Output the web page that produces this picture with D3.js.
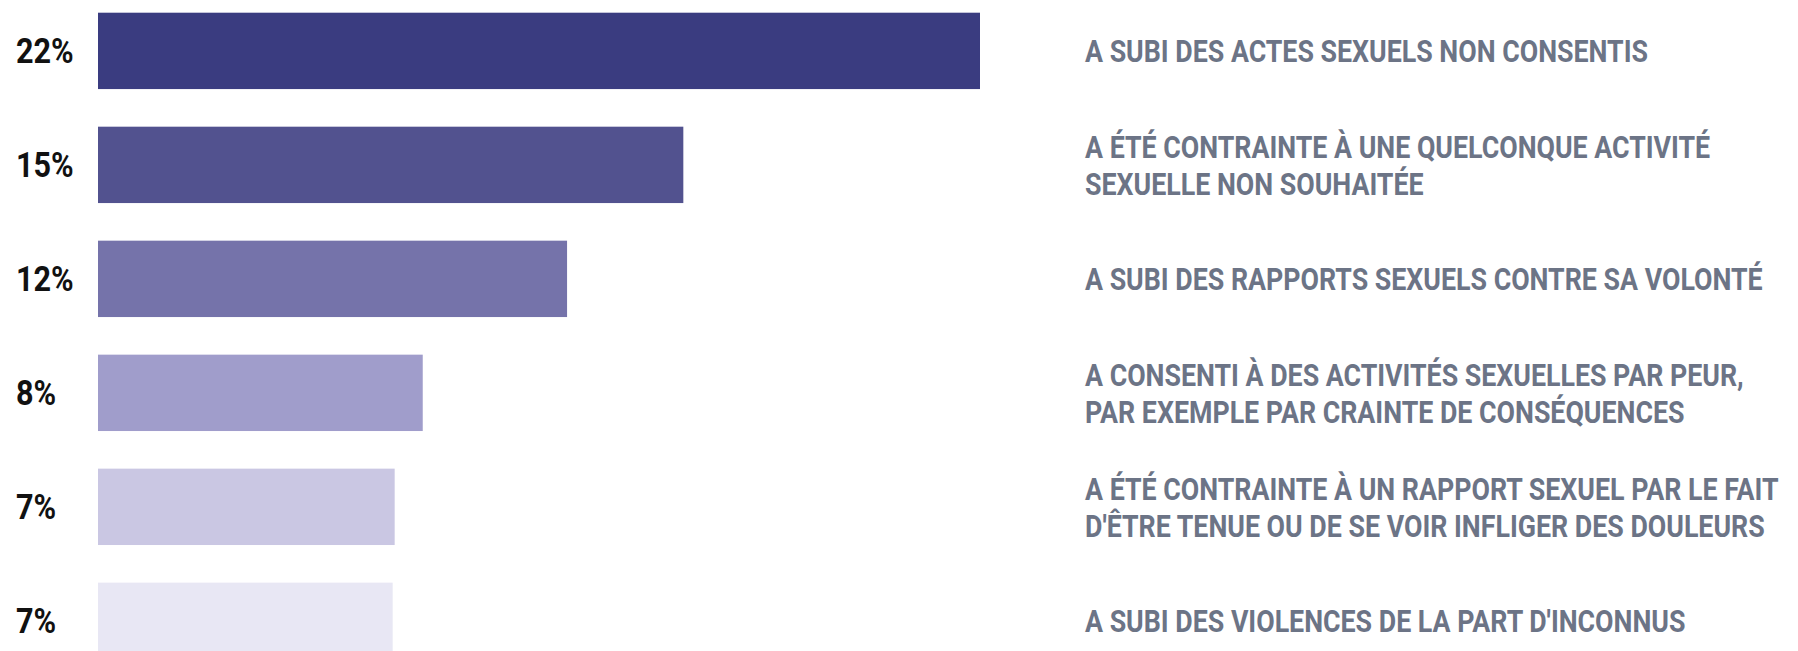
<!DOCTYPE html>
<html>
<head>
<meta charset="utf-8">
<script src="https://cdn.jsdelivr.net/npm/d3@7"></script>
<style>
  body { margin: 0; background: #fff; }
  svg { display: block; }
</style>
</head>
<body>
<svg width="1798" height="651"></svg>
<script>
// values, labels shown rounded
var values = [22, 14.6, 11.7, 8.1, 7.4, 7.35];
var labels = [
  ["A SUBI DES ACTES SEXUELS NON CONSENTIS"],
  ["A ÉTÉ CONTRAINTE À UNE QUELCONQUE ACTIVITÉ", "SEXUELLE NON SOUHAITÉE"],
  ["A SUBI DES RAPPORTS SEXUELS CONTRE SA VOLONTÉ"],
  ["A CONSENTI À DES ACTIVITÉS SEXUELLES PAR PEUR,", "PAR EXEMPLE PAR CRAINTE DE CONSÉQUENCES"],
  ["A ÉTÉ CONTRAINTE À UN RAPPORT SEXUEL PAR LE FAIT", "D'ÊTRE TENUE OU DE SE VOIR INFLIGER DES DOULEURS"],
  ["A SUBI DES VIOLENCES DE LA PART D'INCONNUS"]
];
var colors = ["#3a3c80", "#52528f", "#7573aa", "#a09dcb", "#cac7e3", "#e8e7f4"];

var svg = d3.select("svg"),
    width = 1798,
    height = 651;

var x = d3.scaleLinear()
    .domain([0, 22])
    .range([98, 980]);

var y = d3.scaleBand()
    .domain(d3.range(values.length))
    .range([12.7, 659])
    .paddingInner(0.33)
    .paddingOuter(0);

var fmt = function(v) { return Math.round(v) + "%"; };

// bars
svg.append("g").selectAll("rect")
  .data(values)
  .enter().append("rect")
    .attr("x", x(0))
    .attr("y", function(d, i) { return y(i); })
    .attr("width", function(d) { return x(d) - x(0); })
    .attr("height", y.bandwidth())
    .attr("fill", function(d, i) { return colors[i]; });

// percentage labels on the left
svg.append("g").selectAll("g")
  .data(values)
  .enter().append("g")
    .attr("transform", function(d, i) {
      return "translate(16," + (y(i) + y.bandwidth() / 2 + 12.5) + ") scale(0.85,1)";
    })
  .append("text")
    .attr("font-family", "Roboto, 'DejaVu Sans', sans-serif")
    .attr("font-weight", 700)
    .attr("font-size", 36)
    .attr("fill", "#111")
    .text(fmt);

// category labels on the right
var lineH = 37;
var lab = svg.append("g").selectAll("g")
  .data(labels)
  .enter().append("g")
    .attr("transform", function(d, i) {
      var cy = y(i) + y.bandwidth() / 2;
      var first = cy - (d.length - 1) * lineH / 2 + 11.5;
      return "translate(1085," + first + ") scale(0.85,1)";
    });

lab.append("text")
    .attr("font-family", "Roboto, 'DejaVu Sans', sans-serif")
    .attr("font-weight", 700)
    .attr("font-size", 31.5)
    .attr("fill", "#6c7486")
  .selectAll("tspan")
  .data(function(d) { return d; })
  .enter().append("tspan")
    .attr("x", 0)
    .attr("y", function(d, j) { return j * lineH; })
    .text(function(d) { return d; });
</script>
</body>
</html>
